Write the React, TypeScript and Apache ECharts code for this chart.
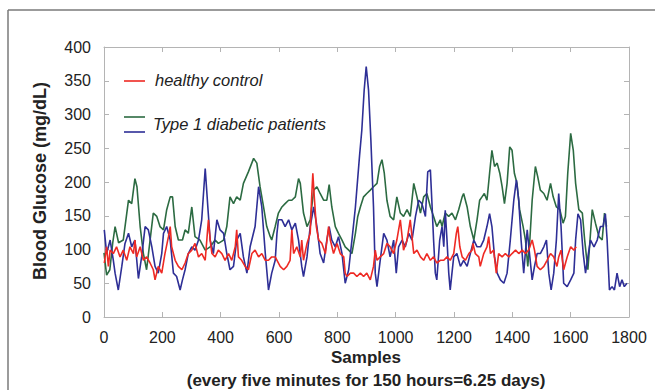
import React, { useEffect, useRef } from "react";
import * as echarts from "echarts";

const xTicks = [0, 200, 400, 600, 800, 1000, 1200, 1400, 1600, 1800];
const yTicks = [0, 50, 100, 150, 200, 250, 300, 350, 400];

const healthySamples = [1,9,15,21,32,43,55,66,78,89,101,106,112,124,135,146,158,169,175,186,198,209,221,227,232,244,255,267,278,289,301,312,324,335,347,358,364,370,381,392,404,415,427,438,450,455,461,472,484,495,507,518,530,541,553,564,575,587,604,616,627,638,644,650,661,673,678,684,696,707,712,716,721,728,736,747,759,770,776,787,799,810,822,827,833,845,856,867,879,890,901,913,924,930,936,947,959,970,981,993,1004,1016,1027,1039,1050,1062,1073,1085,1096,1107,1119,1130,1141,1153,1165,1176,1187,1199,1208,1213,1220,1228,1239,1251,1262,1265,1273,1285,1290,1302,1313,1319,1325,1336,1345,1353,1365,1376,1388,1399,1411,1422,1434,1445,1456,1468,1476,1485,1496,1508,1519,1531,1542,1553,1559,1567,1576,1588,1600,1611,1619];
const healthyValues = [80,104,75,99,94,104,89,99,84,104,94,114,89,104,84,89,80,70,55,75,65,94,119,134,104,84,75,70,80,94,99,109,89,94,84,144,114,94,89,99,94,84,94,84,104,129,89,84,75,70,94,99,89,94,84,84,89,89,75,70,75,84,129,94,104,89,114,84,109,124,178,213,178,134,114,109,94,134,114,94,109,94,89,65,60,65,65,60,65,60,65,55,75,99,84,89,94,109,104,94,114,144,99,114,144,94,99,89,84,94,84,89,80,84,84,89,84,94,124,134,104,89,84,94,99,109,94,89,75,94,104,119,94,99,65,94,89,94,89,94,99,94,99,94,99,114,99,75,70,75,84,94,89,75,89,99,70,89,104,99,104];

const type1aSamples = [0,9,20,30,38,50,66,84,95,106,113,124,135,146,158,169,181,192,204,215,227,235,244,255,269,278,289,301,312,329,347,364,381,392,410,421,432,444,455,467,478,495,513,524,535,547,558,570,575,587,598,610,621,633,644,656,667,673,684,696,707,719,730,741,753,764,772,781,793,804,816,827,839,850,862,870,879,890,901,913,924,936,945,953,961,970,981,993,1004,1016,1027,1039,1050,1062,1073,1085,1096,1107,1119,1130,1141,1153,1159,1170,1182,1193,1205,1216,1228,1233,1245,1256,1268,1279,1288,1296,1304,1313,1322,1330,1339,1348,1357,1365,1373,1382,1391,1399,1407,1416,1425,1437,1445,1453,1460,1468,1479,1487,1496,1508,1519,1531,1540,1551,1563,1574,1582,1590,1600,1609,1617,1628,1640,1648,1659,1668,1674,1685,1697,1708,1716,1723];
const type1aValues = [95,62,70,110,134,110,114,173,168,205,193,134,94,70,114,154,149,134,129,159,178,178,134,114,114,129,124,163,119,114,99,104,114,109,114,134,178,168,178,173,198,215,235,228,193,163,134,119,114,134,154,163,168,173,173,178,205,198,154,134,144,188,193,183,173,173,196,163,134,124,114,104,99,94,124,149,163,178,183,188,193,198,223,233,213,173,149,144,178,154,149,159,149,198,178,154,178,183,163,149,134,144,134,154,149,154,144,159,178,183,163,134,114,144,173,178,183,173,213,247,223,228,213,193,168,198,252,247,213,198,159,134,114,75,114,173,223,208,188,183,173,198,178,163,159,139,149,213,272,247,198,159,154,114,70,124,159,139,119,114,154,134];

const type1bSamples = [1,9,21,32,38,49,61,72,84,95,106,118,129,141,152,164,175,186,198,204,215,227,238,249,261,269,278,289,301,312,324,335,347,356,364,375,387,398,410,421,432,444,455,467,478,490,501,518,530,541,553,564,575,587,593,598,610,621,633,644,656,667,678,684,696,707,719,730,741,753,764,772,781,793,804,816,827,839,850,862,876,884,892,899,907,915,924,930,936,947,959,970,981,993,1002,1010,1022,1033,1045,1056,1068,1079,1090,1102,1110,1119,1125,1130,1136,1141,1151,1159,1165,1170,1176,1182,1187,1193,1199,1210,1222,1233,1245,1256,1268,1279,1291,1302,1313,1322,1330,1339,1348,1359,1371,1382,1393,1405,1414,1422,1430,1439,1451,1460,1468,1476,1485,1496,1508,1517,1525,1533,1542,1551,1559,1567,1576,1588,1600,1611,1617,1625,1634,1643,1651,1659,1668,1680,1691,1702,1711,1719,1725,1733,1742,1750,1759,1768,1776,1784,1793];
const type1bValues = [129,94,114,84,65,40,75,109,124,104,114,57,89,134,129,104,75,65,94,124,134,114,65,60,40,55,70,94,104,99,114,144,220,163,114,94,144,129,124,94,70,75,114,124,89,65,104,134,193,163,94,40,65,84,124,144,144,134,144,129,139,114,75,60,89,134,163,134,94,80,114,134,114,104,119,94,50,70,114,163,238,277,336,371,336,262,163,65,45,84,124,114,89,114,65,104,114,104,124,114,149,173,168,149,215,218,163,114,65,55,114,134,104,158,114,65,40,65,89,94,75,84,75,94,114,104,104,114,134,153,134,89,65,55,50,65,114,173,203,173,114,65,129,89,55,75,94,94,104,114,65,40,65,114,183,134,50,45,55,65,114,153,144,94,65,89,114,104,114,134,134,153,114,40,45,40,65,45,55,45,50];

const FONT = '"Liberation Sans", Arial, sans-serif';
const RED = "#ee2a24";
const GREEN = "#2c6b42";
const BLUE = "#2e2f96";

const pairs = (s: number[], v: number[]) => s.map((x, i) => [x, v[i]]);

export default function App() {
  const ref = useRef<HTMLDivElement>(null);
  useEffect(() => {
    if (!ref.current) return;
    const chart = echarts.init(ref.current, undefined, { renderer: "svg" });
    const axisColor = "#b4b4b4";
    const baseX = {
      type: "value" as const,
      min: xTicks[0],
      max: xTicks[xTicks.length - 1],
      interval: xTicks[1] - xTicks[0],
      splitLine: { show: false },
      axisLine: { show: true, onZero: false, lineStyle: { color: axisColor, width: 1 } },
      axisTick: { show: true, inside: true, length: 5, lineStyle: { color: axisColor } },
    };
    const baseY = {
      type: "value" as const,
      min: yTicks[0],
      max: yTicks[yTicks.length - 1],
      interval: yTicks[1] - yTicks[0],
      splitLine: { show: false },
      axisLine: { show: true, onZero: false, lineStyle: { color: axisColor, width: 1 } },
      axisTick: { show: true, inside: true, length: 5, lineStyle: { color: axisColor } },
    };
    chart.setOption({
      animation: false,
      backgroundColor: "#ffffff",
      grid: { left: 104, top: 47, right: 26, bottom: 73, containLabel: false },
      xAxis: [
        {
          ...baseX,
          position: "bottom",
          axisLabel: { show: true, margin: 12, color: "#222", fontSize: 16, fontFamily: FONT, formatter: (v: number) => String(v) },
        },
        { ...baseX, position: "top", axisLabel: { show: false } },
      ],
      yAxis: [
        {
          ...baseY,
          position: "left",
          axisLabel: { show: true, margin: 13, color: "#222", fontSize: 16, fontFamily: FONT, formatter: (v: number) => String(v) },
        },
        { ...baseY, position: "right", axisLabel: { show: false } },
      ],
      series: [
        {
          name: "Type 1 diabetic patients A",
          type: "line",
          data: pairs(type1aSamples, type1aValues),
          showSymbol: false,
          symbol: "none",
          lineStyle: { color: GREEN, width: 1.6 },
          z: 2,
        },
        {
          name: "Type 1 diabetic patients B",
          type: "line",
          data: pairs(type1bSamples, type1bValues),
          showSymbol: false,
          symbol: "none",
          lineStyle: { color: BLUE, width: 1.6 },
          z: 3,
        },
        {
          name: "healthy control",
          type: "line",
          data: pairs(healthySamples, healthyValues),
          showSymbol: false,
          symbol: "none",
          lineStyle: { color: RED, width: 1.6 },
          z: 4,
        },
      ],
      graphic: [
        { type: "line", shape: { x1: 8, y1: 10, x2: 655, y2: 10 }, style: { stroke: "#7a7a7a", lineWidth: 1.5 } },
        { type: "line", shape: { x1: 8, y1: 10, x2: 8, y2: 390 }, style: { stroke: "#7a7a7a", lineWidth: 1.5 } },
        { type: "line", shape: { x1: 124, y1: 81, x2: 145, y2: 81 }, style: { stroke: RED, lineWidth: 1.6 } },
        { type: "text", x: 155, y: 80, style: { text: "healthy control", font: `italic 16.5px ${FONT}`, fill: "#222", textVerticalAlign: "middle" } },
        { type: "line", shape: { x1: 124, y1: 117, x2: 145, y2: 117 }, style: { stroke: GREEN, lineWidth: 1.6 } },
        { type: "line", shape: { x1: 124, y1: 132, x2: 145, y2: 132 }, style: { stroke: BLUE, lineWidth: 1.6 } },
        { type: "text", x: 153, y: 124, style: { text: "Type 1 diabetic patients", font: `italic 16.5px ${FONT}`, fill: "#222", textVerticalAlign: "middle" } },
        { type: "text", x: 366, y: 357, style: { text: "Samples", font: `bold 17px ${FONT}`, fill: "#222", textAlign: "center", textVerticalAlign: "middle" } },
        { type: "text", x: 366, y: 380, style: { text: "(every five minutes for 150 hours=6.25 days)", font: `bold 17px ${FONT}`, fill: "#222", textAlign: "center", textVerticalAlign: "middle" } },
        { type: "text", x: 40, y: 181, rotation: Math.PI / 2, style: { text: "Blood Glucose (mg/dL)", font: `bold 18px ${FONT}`, fill: "#222", textAlign: "center", textVerticalAlign: "middle" } },
      ],
    });
    return () => chart.dispose();
  }, []);
  return <div ref={ref} style={{ position: "absolute", left: 0, top: 0, width: 655, height: 390 }} />;
}
